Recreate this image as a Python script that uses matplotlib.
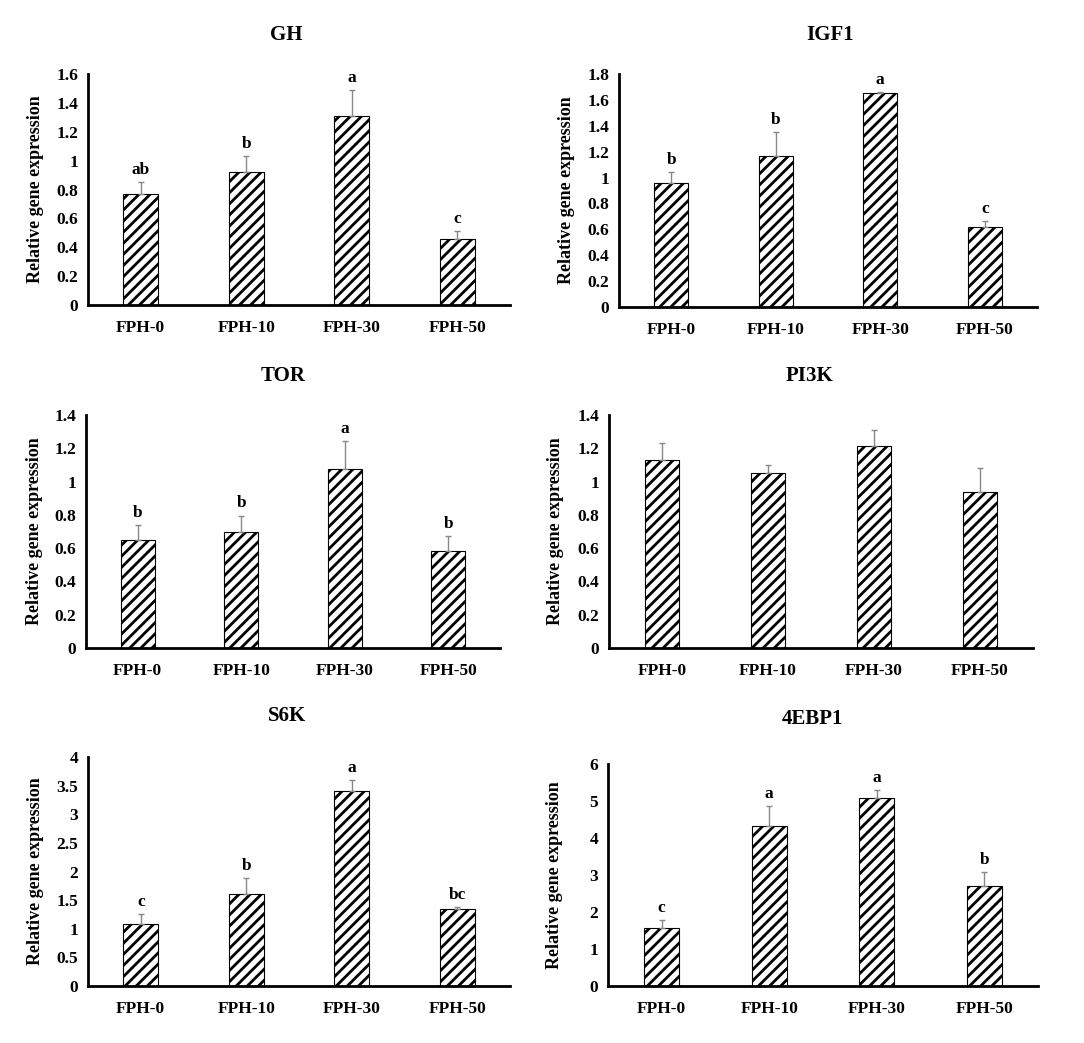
import matplotlib.pyplot as plt

groups = ["FPH-0", "FPH-10", "FPH-30", "FPH-50"]

gh_mean = [0.77, 0.92, 1.31, 0.46]
gh_err = [0.08, 0.11, 0.18, 0.05]
gh_sig = ["ab", "b", "a", "c"]

igf1_mean = [0.96, 1.165, 1.655, 0.62]
igf1_err = [0.08, 0.185, 0.005, 0.045]
igf1_sig = ["b", "b", "a", "c"]

tor_mean = [0.65, 0.696, 1.074, 0.58]
tor_err = [0.09, 0.10, 0.17, 0.09]
tor_sig = ["b", "b", "a", "b"]

pi3k_mean = [1.13, 1.054, 1.215, 0.936]
pi3k_err = [0.10, 0.046, 0.095, 0.144]
pi3k_sig = ["", "", "", ""]

s6k_mean = [1.09, 1.61, 3.40, 1.35]
s6k_err = [0.17, 0.27, 0.19, 0.03]
s6k_sig = ["c", "b", "a", "bc"]

ebp_mean = [1.58, 4.33, 5.07, 2.71]
ebp_err = [0.20, 0.54, 0.23, 0.38]
ebp_sig = ["c", "a", "a", "b"]

plt.rcParams['font.family'] = ['Liberation Serif', 'DejaVu Serif']
plt.rcParams['font.weight'] = 'bold'
plt.rcParams['hatch.linewidth'] = 2.0

W, H = 1084, 1043
fig = plt.figure(figsize=(W / 100, H / 100), dpi=100)


def px_axes(x0, x1, ytop, ybot):
    return fig.add_axes([x0 / W, (H - ybot) / H, (x1 - x0) / W, (ybot - ytop) / H])


panels = [
    ("GH", gh_mean, gh_err, gh_sig, 1.6, 0.2, (88, 510, 74, 305), (286, 35)),
    ("IGF1", igf1_mean, igf1_err, igf1_sig, 1.8, 0.2, (619, 1037, 74, 307), (830, 35)),
    ("TOR", tor_mean, tor_err, tor_sig, 1.4, 0.2, (86, 500, 415, 648), (283, 376)),
    ("PI3K", pi3k_mean, pi3k_err, pi3k_sig, 1.4, 0.2, (609, 1033, 415, 648), (810, 376)),
    ("S6K", s6k_mean, s6k_err, s6k_sig, 4, 0.5, (88, 510, 757, 986), (287, 716)),
    ("4EBP1", ebp_mean, ebp_err, ebp_sig, 6, 1, (608, 1038, 764, 986), (812, 719)),
]

for name, mean, err, sig, ymax, step, box, tpos in panels:
    ax = px_axes(*box)
    x = list(range(len(groups)))
    ax.bar(x, mean, width=0.33, color="white", edgecolor="black",
           hatch="///", linewidth=0.8)
    ax.errorbar(x, mean, yerr=[[0] * len(err), err], fmt="none",
                ecolor="#888888", elinewidth=1.0, capsize=2.5, capthick=1.0)
    for xi, m, e, s in zip(x, mean, err, sig):
        if s:
            ax.annotate(s, (xi, m + e), xytext=(0, 3), textcoords="offset points",
                        ha="center", va="bottom", fontsize=12.5, fontweight="bold")
    ax.set_xlim(-0.5, 3.5)
    ax.set_ylim(0, ymax)
    n = int(round(ymax / step))
    ticks = [round(i * step, 2) for i in range(n + 1)]
    ax.set_yticks(ticks)
    ax.set_yticklabels([f"{t:g}" for t in ticks])
    ax.set_xticks(x)
    ax.set_xticklabels(groups)
    ax.tick_params(axis="both", length=0, labelsize=12.5)
    ax.tick_params(axis="x", pad=11)
    ax.tick_params(axis="y", pad=7)
    for sp in ["top", "right"]:
        ax.spines[sp].set_visible(False)
    for sp in ["left", "bottom"]:
        ax.spines[sp].set_linewidth(2)
    ax.set_ylabel("Relative gene expression", fontsize=13, fontweight="bold")
    ax.yaxis.set_label_coords(-0.105, 0.5)
    fig.text(tpos[0] / W, 1 - tpos[1] / H, name, ha="center", va="center",
             fontsize=15, fontweight="bold")

fig.savefig("out.png", dpi=100)
